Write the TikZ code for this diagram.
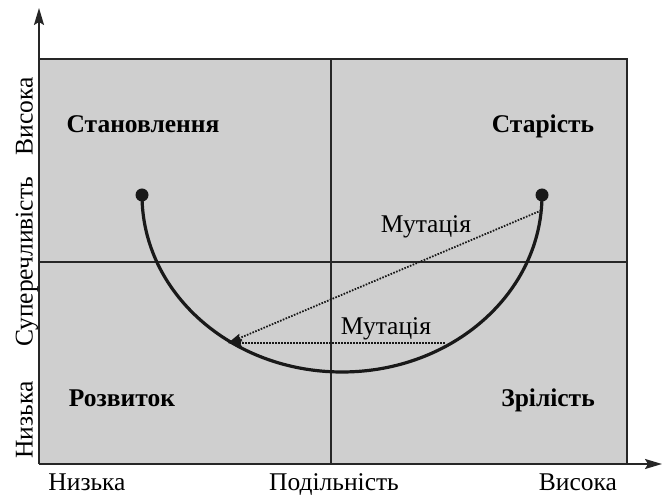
\documentclass[tikz,border=0pt]{standalone}
\usepackage{fontspec}
\setmainfont{Liberation Serif}
\usetikzlibrary{arrows.meta,calc}
\definecolor{boxgray}{RGB}{207,207,207}
\begin{document}
\begin{tikzpicture}[x=1pt,y=1pt,
  lbl/.style={font=\fontsize{25.5}{27}\selectfont, inner sep=0pt, anchor=base},
  qlbl/.style={font=\fontsize{25.5}{27}\selectfont\bfseries, inner sep=0pt, anchor=base},
  grid/.style={line width=1.8pt, black!85},
  axis/.style={line width=1.8pt, black!85, -{Stealth[length=17pt,width=10pt,inset=3pt]}},
  curve/.style={line width=3.2pt, black!90},
  mutarrow/.style={line width=1.8pt, dash pattern=on 1.6pt off 1.4pt, black!90, -{Stealth[length=14pt,width=8pt,inset=2pt]}},
  dot/.style={circle, fill=black!90, inner sep=0pt, minimum size=13pt}]
\useasboundingbox (0,0) rectangle (663,495);
% box
\fill[boxgray] (39,31) rectangle (627,436);
\draw[grid] (39,436) -- (627,436) -- (627,31);
\draw[grid] (331,31) -- (331,436);
\draw[grid] (39,233) -- (627,233);
% axes
\coordinate (O) at (39,31);
\coordinate (Ytop) at (39,487);
\coordinate (Xend) at (662,31);
\draw[axis] (O) -- (Ytop);
\draw[axis] (O) -- (Xend);
% curve
\coordinate (C) at (342,300);
\coordinate (L) at (142,300);
\coordinate (R) at (542,300);
\draw[curve] (L) arc[start angle=180, end angle=360, x radius=200, y radius=177];
\node[dot] (dL) at (L) {};
\node[dot] (dR) at (R) {};
% mutation arrows
\coordinate (m1s) at ($(C)+(355:200 and 177)$);
\coordinate (tip) at (228,152);
\coordinate (m2s) at (445,152);
\draw[mutarrow] (m1s) -- (tip);
\draw[mutarrow] (m2s) -- (tip);
% quadrant labels
\node[qlbl] (st) at (143,362.5) {Становлення};
\node[qlbl] (sa) at (543,362.5) {Старість};
\node[qlbl] (ro) at (122,88.5) {Розвиток};
\node[qlbl] (zr) at (548,88.5) {Зрілість};
\node[lbl] (mu1) at (426,262) {Мутація};
\node[lbl] (mu2) at (386,160) {Мутація};
% axis labels
\node[lbl] (xl) at (87,5) {Низька};
\node[lbl] (xm) at (334,5) {Подільність};
\node[lbl] (xh) at (578,5) {Висока};
\node[lbl, rotate=90] (yh) at (32.5,379) {Висока};
\node[lbl, rotate=90] (ym) at (32.5,233) {Суперечливість};
\node[lbl, rotate=90] (yl) at (32.5,75) {Низька};
\end{tikzpicture}
\end{document}
